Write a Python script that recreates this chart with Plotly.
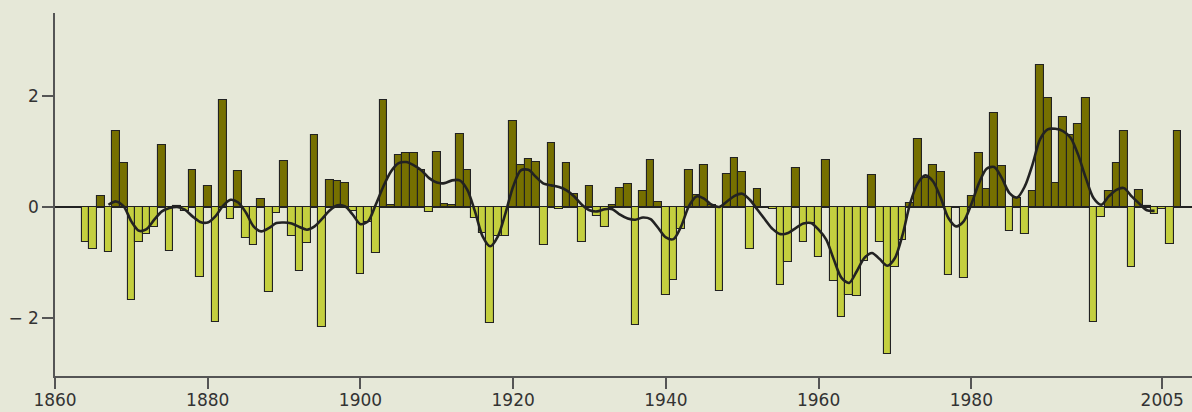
import plotly.graph_objects as go

years = list(range(1864, 2008))
values = [
    -0.63, -0.75, 0.19, -0.81, 1.37, 0.79, -1.67, -0.63, -0.49, -0.36,   # 1864-1873
    1.11, -0.80, 0.02, -0.07, 0.66, -1.26, 0.37, -2.08, 1.93, -0.21,     # 1874-1883
    0.65, -0.56, -0.68, 0.14, -1.53, -0.10, 0.83, -0.52, -1.15, -0.65,   # 1884-1893
    1.30, -2.17, 0.49, 0.47, 0.43, -0.07, -1.21, -0.27, -0.83, 1.93,     # 1894-1903
    0.03, 0.93, 0.97, 0.97, 0.66, -0.09, 1.00, 0.05, 0.03, 1.31,         # 1904-1913
    0.67, -0.20, -0.47, -2.09, -0.52, -0.52, 1.56, 0.76, 0.87, 0.81,     # 1914-1923
    -0.69, 1.15, -0.04, 0.80, 0.23, -0.64, 0.38, -0.17, -0.36, 0.04,     # 1924-1933
    0.35, 0.41, -2.13, 0.28, 0.84, 0.09, -1.59, -1.31, -0.39, 0.67,      # 1934-1943
    0.22, 0.76, 0.04, -1.51, 0.60, 0.88, 0.63, -0.76, 0.33, 0.0,         # 1944-1953
    -0.04, -1.41, -1.00, 0.70, -0.63, -0.29, -0.90, 0.85, -1.34, -1.98,  # 1954-1963
    -1.59, -1.61, -0.97, 0.57, -0.64, -2.65, -1.08, -0.60, 0.08, 1.22,   # 1964-1973
    0.53, 0.76, 0.63, -1.22, 0.0, -1.28, 0.20, 0.97, 0.32, 1.70,         # 1974-1983
    0.74, -0.43, 0.16, -0.49, 0.28, 2.56, 1.97, 0.44, 1.62, 1.30,        # 1984-1993
    1.49, 1.97, -2.08, -0.18, 0.28, 0.79, 1.37, -1.08, 0.30, 0.02,       # 1994-2003
    -0.13, -0.04, -0.67, 1.37,                                           # 2004-2007
]

smooth_years = list(range(1867, 2005))
smooth_values = [
    0.04, 0.10, 0.01, -0.26, -0.43, -0.40, -0.23, -0.08, -0.02, 0.00,    # 1867-1876
    -0.05, -0.17, -0.27, -0.28, -0.17, 0.02, 0.13, 0.08, -0.10, -0.35,   # 1877-1886
    -0.44, -0.38, -0.29, -0.28, -0.30, -0.36, -0.41, -0.35, -0.21, -0.06,  # 1887-1896
    0.03, 0.01, -0.14, -0.31, -0.26, 0.04, 0.37, 0.64, 0.79, 0.81,       # 1897-1906
    0.75, 0.66, 0.52, 0.44, 0.43, 0.48, 0.48, 0.31, -0.08, -0.53,        # 1907-1916
    -0.71, -0.53, -0.11, 0.37, 0.66, 0.67, 0.54, 0.42, 0.39, 0.36,       # 1917-1926
    0.30, 0.19, 0.04, -0.06, -0.08, -0.04, -0.04, -0.14, -0.21, -0.23,   # 1927-1936
    -0.19, -0.22, -0.38, -0.55, -0.58, -0.35, 0.01, 0.19, 0.15, 0.04,    # 1937-1946
    0.00, 0.10, 0.20, 0.24, 0.13, -0.05, -0.23, -0.40, -0.49, -0.47,     # 1947-1956
    -0.38, -0.30, -0.29, -0.41, -0.59, -0.95, -1.28, -1.37, -1.16, -0.92,  # 1957-1966
    -0.83, -0.94, -1.06, -0.92, -0.50, 0.07, 0.43, 0.57, 0.46, 0.16,     # 1967-1976
    -0.20, -0.35, -0.26, 0.05, 0.43, 0.69, 0.72, 0.52, 0.25, 0.17,       # 1977-1986
    0.37, 0.76, 1.22, 1.40, 1.41, 1.37, 1.25, 0.94, 0.52, 0.16,          # 1987-1996
    0.04, 0.19, 0.31, 0.34, 0.19, 0.06, -0.06, -0.07,                    # 1997-2004
]

x_tick_vals = [1860, 1880, 1900, 1920, 1940, 1960, 1980, 2005]
x_tick_text = ["1860", "1880", "1900", "1920", "1940", "1960", "1980", "2005"]
y_tick_vals = [-2, 0, 2]
y_tick_text = ["\u2212 2", "0", "2"]

POS = "#767000"
NEG = "#c4cf3f"
BG = "#e6e8d8"
TXT = "#333333"
AX = "#555555"

bar_colors = [POS if v >= 0 else NEG for v in values]

fig = go.Figure()
fig.add_trace(go.Bar(
    x=years, y=values,
    marker=dict(color=bar_colors, line=dict(color="#222222", width=1.1)),
    width=1.0,
    hoverinfo="x+y",
))
fig.add_trace(go.Scatter(
    x=smooth_years, y=smooth_values, mode="lines",
    line=dict(color="#222222", width=2.6, shape="spline", smoothing=0.8),
    hoverinfo="skip",
))

fig.update_layout(
    width=1192, height=412,
    margin=dict(l=55, r=0, t=13, b=36, autoexpand=False),
    paper_bgcolor=BG, plot_bgcolor=BG,
    showlegend=False,
    bargap=0,
    font=dict(family="DejaVu Sans, Verdana, sans-serif", size=17, color=TXT),
    xaxis=dict(
        range=[1860, 2008.9], tickmode="array",
        tickvals=x_tick_vals, ticktext=x_tick_text,
        ticks="outside", ticklen=11, tickcolor=AX, tickwidth=1.5,
        ticklabelstandoff=-3,
        showline=True, linecolor=AX, linewidth=1.5,
        showgrid=False, zeroline=False, automargin=False,
        tickfont=dict(size=17, color=TXT),
    ),
    yaxis=dict(
        range=[-3.05, 3.5], tickmode="array",
        tickvals=y_tick_vals, ticktext=y_tick_text,
        ticks="outside", ticklen=11, tickcolor=AX, tickwidth=1.5,
        showline=True, linecolor=AX, linewidth=1.5,
        showgrid=False, zeroline=True, zerolinecolor="#222222", zerolinewidth=1.5,
        automargin=False,
        tickfont=dict(size=17, color=TXT),
    ),
)

fig.write_html(
    "out.html",
    config={"displayModeBar": False},
    post_script="document.body.style.margin='0';document.body.style.padding='0';document.body.style.overflow='hidden';",
)
